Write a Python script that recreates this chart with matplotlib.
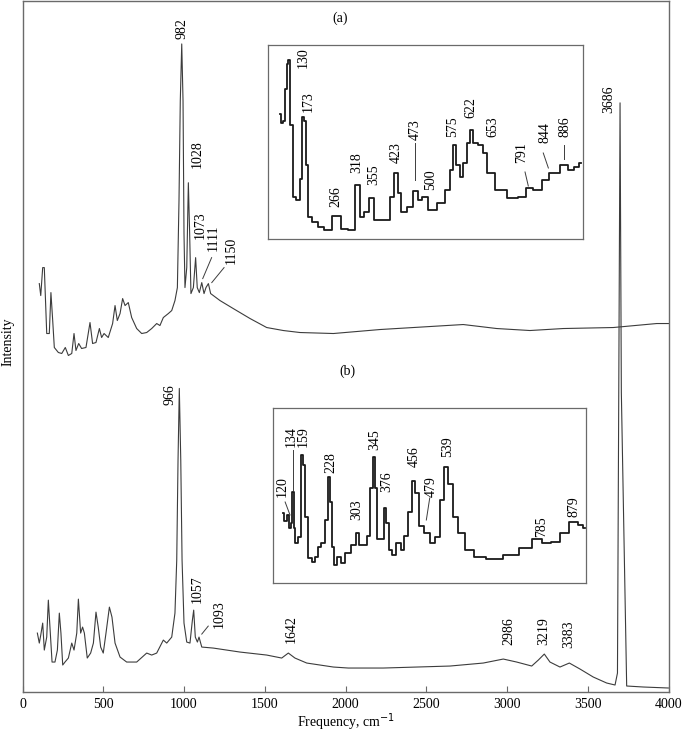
import matplotlib
matplotlib.use("Agg")
import matplotlib.pyplot as plt

plt.rcParams['font.family'] = ['Liberation Serif', 'DejaVu Serif']
plt.rcParams['font.size'] = 10

# ---------------- data: main spectrum (a) ----------------
a_x = [104, 113, 125, 135, 150, 166, 176, 187, 197, 222, 243, 265, 284, 305, 319, 331, 348, 366,
       393, 418, 434, 455, 476, 490, 505, 531, 558, 573, 587, 604, 620, 635, 655, 676, 707, 738,
       769, 800, 831, 851, 872, 903, 924, 944, 959, 969, 977, 986, 994, 1000, 1006, 1017, 1027,
       1035, 1043, 1058, 1072, 1082, 1095, 1110, 1124, 1136, 1151, 1165, 1223, 1305, 1409, 1512,
       1615, 1718, 1925, 2214, 2523, 2729, 2833, 2936, 3142, 3349, 3658, 3927, 4000]
a_y = [409, 397, 425, 425, 359, 359, 400, 372, 345, 340, 339, 345, 337, 339, 359, 342, 349, 344,
       345, 370, 349, 350, 364, 355, 359, 355, 369, 387, 372, 379, 394, 387, 390, 375, 364, 359,
       360, 364, 369, 367, 375, 379, 382, 392, 405, 492, 592, 649, 592, 459, 405, 425, 510,
       459, 399, 405, 435, 405, 400, 410, 399, 405, 409, 399, 392, 384, 374, 365,
       362, 360, 359, 363, 366, 368, 366, 364, 362, 364, 365, 369, 369]

# ---------------- data: main spectrum (b) ----------------
b_x = [92, 104, 113, 125, 135, 150, 160, 170, 183, 201, 216, 228, 238, 249, 263, 284, 305, 319,
       336, 346, 360, 372, 383, 401, 422, 439, 455, 469, 484, 500, 517, 538, 554, 573, 604, 645,
       707, 769, 800, 831, 872, 893, 924, 944, 955, 963, 971, 980, 988, 1000, 1017, 1037, 1052,
       1060, 1070, 1083, 1093, 1110, 1181, 1347, 1512, 1605, 1646, 1687, 1760, 1925, 2017, 2234,
       2441, 2647, 2853, 2977, 3060, 3153, 3194, 3231, 3266, 3328, 3386, 3452, 3534, 3617, 3669,
       3684, 3692, 3700, 3708, 3741, 3844, 3999]
b_y = [59, 49, 57, 69, 42, 55, 92, 65, 30, 30, 42, 79, 59, 27, 30, 34, 49, 42,
       59, 93, 59, 65, 59, 34, 39, 49, 80, 65, 45, 39, 59, 85, 75, 49, 35, 30,
       30, 39, 37, 39, 52, 49, 55, 79, 132, 232, 304, 232, 132, 69, 50, 49, 72,
       82, 55, 50, 55, 45, 44, 40, 37, 34, 39, 34, 29, 25, 24, 24,
       25, 26, 29, 33, 30, 26, 32, 38, 30, 25, 29, 23, 15, 9, 7,
       19, 300, 590, 300, 6, 5, 4]

# ---------------- data: inset (a) ----------------
ia_x = [107, 112, 118, 124, 128, 132, 139, 144, 157, 165, 171, 175, 180, 189, 199, 222, 235, 265,
        285, 304, 320, 331, 345, 357, 370, 400, 416, 425, 434, 445, 464, 480, 491, 503, 523, 551,
        569, 578, 585, 596, 605, 614, 624, 631, 642, 660, 667, 683, 710, 747, 774, 788, 811, 839,
        850, 866, 886, 907, 921, 933]
ia_y = [125, 116, 118, 150, 175, 179, 114, 42, 39, 60, 122, 118, 74, 22, 17, 12, 9, 23,
        10, 9, 54, 22, 27, 41, 19, 19, 42, 66, 46, 27, 32, 48, 39, 42, 29, 36,
        49, 69, 94, 74, 62, 76, 96, 109, 96, 94, 86, 66, 49, 41, 42, 51, 49, 59,
        66, 66, 74, 69, 72, 76]

# ---------------- data: inset (b) ----------------
ib_x = [106, 112, 119, 124, 128, 132, 136, 140, 148, 157, 162, 168, 177, 186, 194, 201, 212, 221,
        227, 232, 238, 246, 254, 263, 278, 293, 303, 309, 325, 334, 340, 347, 353, 358, 369, 376,
        384, 391, 399, 413, 422, 433, 444, 453, 461, 471, 486, 503, 517, 528, 539, 550, 561, 579,
        596, 627, 662, 715, 751, 782, 804, 831, 852, 879, 897, 908]
ib_y = [70, 62, 68, 55, 60, 91, 55, 40, 46, 128, 118, 66, 25, 21, 26, 36, 40, 63,
        106, 81, 36, 18, 26, 20, 30, 38, 50, 38, 38, 47, 95, 126, 95, 44, 44, 75,
        60, 33, 28, 40, 33, 47, 71, 102, 90, 57, 50, 40, 46, 83, 116, 99, 66, 50,
        33, 26, 24, 28, 35, 44, 40, 41, 50, 61, 58, 55]

# ---------------- labels ----------------
a_labels = ["982", "1028", "1073", "1111", "1150", "(a)"]
b_labels = ["966", "1057", "1093", "1642", "2986", "3219", "3383", "3686", "(b)"]
ia_labels = ["130", "173", "266", "318", "355", "423", "473", "500", "575", "622", "653",
             "791", "844", "886"]
ib_labels = ["120", "134", "159", "228", "303", "345", "376", "456", "479", "539", "785", "879"]
xticks = [0, 500, 1000, 1500, 2000, 2500, 3000, 3500, 4000]

LINE = '#3c3c3c'
SPINE = '#6a6a6a'

fig = plt.figure(figsize=(6.85, 7.33), dpi=100)
ax = fig.add_axes([22.5 / 685, 1 - 692 / 733, 646 / 685, 691 / 733])
ax.plot(a_x, a_y, color=LINE, lw=0.8)
ax.plot(b_x, b_y, color=LINE, lw=0.8)
ax.set_xlim(0, 4000)
ax.set_ylim(0, 692)
ax.set_xticks(xticks)
ax.set_xticklabels([str(t) for t in xticks])
ax.set_yticks([])
ax.tick_params(axis='x', direction='in', length=4, color=SPINE, labelsize=10, pad=4)
for s in ax.spines.values():
    s.set_color(SPINE)
    s.set_linewidth(1.0)
fig.text(346 / 685, 1 - 722 / 733, "Frequency, cm$^{-1}$", ha='center', va='center', fontsize=10)
fig.text(8 / 685, 1 - 342 / 733, "Intensity", rotation=90, ha='center', va='center', fontsize=10)

def rot(axx, txt, x, y):
    axx.text(x, y, txt, rotation=90, ha='center', va='bottom', fontsize=10)

# main (a) labels
main_a_pos = [(986, 654), (1079, 525), (1099, 454), (1181, 442), (1295, 429)]
for t, (x, y) in zip(a_labels[:5], main_a_pos):
    rot(ax, t, x, y)
ax.plot([1116, 1171], [414, 435], color=LINE, lw=0.7)
ax.plot([1172, 1248], [410, 425], color=LINE, lw=0.7)
ax.text(1966, 675, a_labels[5], ha='center', va='center', fontsize=10)

# main (b) labels
main_b_pos = [(913, 287), (1079, 89), (1219, 64), (1667, 49), (3014, 47), (3225, 47),
              (3380, 44), (3628, 580)]
for t, (x, y) in zip(b_labels[:8], main_b_pos):
    rot(ax, t, x, y)
ax.plot([1110, 1150], [58, 66], color=LINE, lw=0.7)
ax.text(2009, 321, b_labels[8], ha='center', va='center', fontsize=10)

# inset (a)
ia = fig.add_axes([268 / 685, 1 - 239 / 733, 315 / 685, 194 / 733])
ia.plot(ia_x, ia_y, color='#1a1a1a', lw=1.3, drawstyle='steps-mid')
ia.set_xlim(74, 938)
ia.set_ylim(0, 194)
ia.set_xticks([]); ia.set_yticks([])
for s in ia.spines.values():
    s.set_color(SPINE); s.set_linewidth(0.9)
ia_pos = [(171, 171), (185, 127), (261, 32), (318, 66), (363, 54), (427, 76), (477, 99),
          (520, 49), (581, 102), (630, 121), (692, 102), (770, 76), (834, 96), (889, 102)]
for t, (x, y) in zip(ia_labels, ia_pos):
    rot(ia, t, x, y)
ia.plot([477, 477], [96, 59], color=LINE, lw=0.7)
ia.plot([779, 788], [67, 53], color=LINE, lw=0.7)
ia.plot([829, 843], [86, 71], color=LINE, lw=0.7)
ia.plot([887, 887], [94, 80], color=LINE, lw=0.7)

# inset (b)
ib = fig.add_axes([272.7 / 685, 1 - 583 / 733, 313.3 / 685, 175 / 733])
ib.plot(ib_x, ib_y, color='#1a1a1a', lw=1.3, drawstyle='steps-mid')
ib.set_xlim(78, 910)
ib.set_ylim(0, 175)
ib.set_xticks([]); ib.set_yticks([])
for s in ib.spines.values():
    s.set_color(SPINE); s.set_linewidth(0.9)
ib_pos = [(102, 86), (126, 136), (159, 136), (232, 110), (301, 63), (349, 133), (380, 91),
          (455, 116), (499, 86), (543, 126), (791, 46), (879, 66)]
for t, (x, y) in zip(ib_labels, ib_pos):
    rot(ib, t, x, y)
ib.plot([111, 124], [81, 68], color=LINE, lw=0.7)
ib.plot([132, 132], [133, 93], color=LINE, lw=0.7)
ib.plot([495, 486], [85, 63], color=LINE, lw=0.7)

fig.savefig("out.png", dpi=100)
